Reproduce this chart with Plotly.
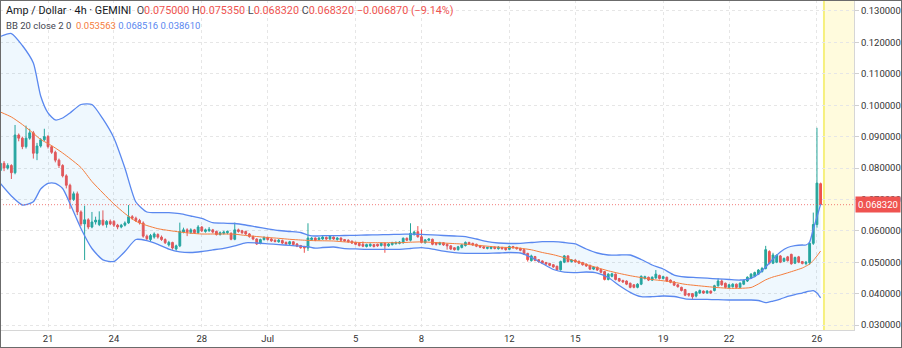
import plotly.graph_objects as go
import pandas as pd

# ---------------- data ----------------
start_time = "2021-06-18 20:00"   # first visible 4h candle

opens = [
    0.0792, 0.0815, 0.0800, 0.0808, 0.0785, 0.0905, 0.0895, 0.0868, 0.0895, 0.0912,
    0.0847, 0.0870, 0.0890, 0.0900, 0.0868, 0.0850, 0.0825, 0.0808, 0.0775, 0.0745,
    0.0700, 0.0718, 0.0660, 0.0622, 0.0635, 0.0612, 0.0628, 0.0620, 0.0634, 0.0620,
    0.0630, 0.0630, 0.0618, 0.0612, 0.0618, 0.0625, 0.0645, 0.0640, 0.0633, 0.0625,
    0.0583, 0.0572, 0.0580, 0.0588, 0.0580, 0.0572, 0.0555, 0.0563, 0.0542, 0.0552,
    0.0596, 0.0603, 0.0595, 0.0603, 0.0594, 0.0612, 0.0598, 0.0600, 0.0603, 0.0598,
    0.0588, 0.0592, 0.0594, 0.0592, 0.0573, 0.0603, 0.0600, 0.0598, 0.0590, 0.0582,
    0.0574, 0.0560, 0.0572, 0.0579, 0.0574, 0.0570, 0.0565, 0.0569, 0.0563, 0.0558,
    0.0565, 0.0558, 0.0553, 0.0550, 0.0545, 0.0572, 0.0577, 0.0572, 0.0574, 0.0579,
    0.0574, 0.0580, 0.0572, 0.0577, 0.0572, 0.0570, 0.0567, 0.0563, 0.0560, 0.0557,
    0.0550, 0.0552, 0.0556, 0.0557, 0.0553, 0.0560, 0.0552, 0.0556, 0.0559, 0.0560,
    0.0562, 0.0576, 0.0570, 0.0588, 0.0597, 0.0581, 0.0562, 0.0570, 0.0573, 0.0562,
    0.0557, 0.0562, 0.0557, 0.0552, 0.0546, 0.0540, 0.0547, 0.0553, 0.0563, 0.0560,
    0.0557, 0.0553, 0.0549, 0.0544, 0.0544, 0.0548, 0.0543, 0.0547, 0.0545, 0.0541,
    0.0550, 0.0547, 0.0544, 0.0540, 0.0528, 0.0505, 0.0518, 0.0508, 0.0504, 0.0499,
    0.0496, 0.0492, 0.0487, 0.0476, 0.0500, 0.0520, 0.0502, 0.0507, 0.0503, 0.0499,
    0.0494, 0.0490, 0.0478, 0.0484, 0.0477, 0.0470, 0.0445, 0.0455, 0.0462, 0.0448,
    0.0442, 0.0440, 0.0433, 0.0428, 0.0420, 0.0430, 0.0448, 0.0452, 0.0443, 0.0450,
    0.0458, 0.0448, 0.0452, 0.0443, 0.0437, 0.0428, 0.0420, 0.0413, 0.0400, 0.0400,
    0.0392, 0.0402, 0.0408, 0.0402, 0.0408, 0.0410, 0.0425, 0.0440, 0.0433, 0.0420,
    0.0422, 0.0430, 0.0420, 0.0430, 0.0440, 0.0450, 0.0455, 0.0462, 0.0470, 0.0480,
    0.0534, 0.0497, 0.0500, 0.0520, 0.0503, 0.0517, 0.0525, 0.0497, 0.0517, 0.0502,
    0.0496, 0.0498, 0.0560, 0.0620, 0.0750,
]
highs = [
    0.0825, 0.0822, 0.0815, 0.0812, 0.0937, 0.0910, 0.0900, 0.0935, 0.0925, 0.0918,
    0.0880, 0.0895, 0.0925, 0.0905, 0.0872, 0.0855, 0.0830, 0.0812, 0.0780, 0.0750,
    0.0725, 0.0725, 0.0665, 0.0680, 0.0640, 0.0660, 0.0645, 0.0662, 0.0665, 0.0634,
    0.0636, 0.0634, 0.0622, 0.0622, 0.0630, 0.0682, 0.0650, 0.0645, 0.0638, 0.0630,
    0.0588, 0.0590, 0.0595, 0.0592, 0.0585, 0.0576, 0.0568, 0.0565, 0.0556, 0.0626,
    0.0610, 0.0608, 0.0608, 0.0606, 0.0618, 0.0615, 0.0607, 0.0612, 0.0606, 0.0600,
    0.0598, 0.0600, 0.0601, 0.0595, 0.0626, 0.0607, 0.0603, 0.0600, 0.0593, 0.0585,
    0.0576, 0.0575, 0.0582, 0.0581, 0.0577, 0.0573, 0.0574, 0.0572, 0.0566, 0.0568,
    0.0567, 0.0561, 0.0555, 0.0552, 0.0624, 0.0580, 0.0579, 0.0580, 0.0583, 0.0582,
    0.0585, 0.0582, 0.0580, 0.0579, 0.0574, 0.0573, 0.0569, 0.0565, 0.0562, 0.0566,
    0.0559, 0.0560, 0.0558, 0.0559, 0.0562, 0.0562, 0.0561, 0.0565, 0.0566, 0.0567,
    0.0579, 0.0579, 0.0624, 0.0600, 0.0615, 0.0604, 0.0574, 0.0576, 0.0575, 0.0564,
    0.0565, 0.0564, 0.0559, 0.0554, 0.0548, 0.0552, 0.0558, 0.0566, 0.0565, 0.0562,
    0.0559, 0.0555, 0.0551, 0.0549, 0.0550, 0.0550, 0.0551, 0.0549, 0.0547, 0.0553,
    0.0552, 0.0549, 0.0546, 0.0542, 0.0530, 0.0524, 0.0520, 0.0510, 0.0506, 0.0501,
    0.0498, 0.0494, 0.0489, 0.0505, 0.0523, 0.0522, 0.0510, 0.0509, 0.0505, 0.0501,
    0.0496, 0.0492, 0.0487, 0.0486, 0.0479, 0.0472, 0.0465, 0.0466, 0.0464, 0.0450,
    0.0444, 0.0442, 0.0435, 0.0430, 0.0433, 0.0458, 0.0457, 0.0454, 0.0455, 0.0475,
    0.0460, 0.0457, 0.0454, 0.0445, 0.0440, 0.0430, 0.0422, 0.0415, 0.0402, 0.0402,
    0.0408, 0.0413, 0.0410, 0.0411, 0.0410, 0.0428, 0.0449, 0.0445, 0.0435, 0.0431,
    0.0433, 0.0432, 0.0436, 0.0445, 0.0455, 0.0465, 0.0470, 0.0478, 0.0485, 0.0552,
    0.0538, 0.0530, 0.0525, 0.0523, 0.0515, 0.0520, 0.0527, 0.0518, 0.0520, 0.0504,
    0.0504, 0.0565, 0.0658, 0.0928, 0.07535,
]
lows = [
    0.0785, 0.0790, 0.0795, 0.0765, 0.0780, 0.0885, 0.0860, 0.0862, 0.0890, 0.0830,
    0.0825, 0.0865, 0.0885, 0.0862, 0.0845, 0.0818, 0.0800, 0.0770, 0.0735, 0.0670,
    0.0695, 0.0650, 0.0615, 0.0507, 0.0605, 0.0608, 0.0620, 0.0615, 0.0615, 0.0610,
    0.0618, 0.0612, 0.0605, 0.0608, 0.0614, 0.0622, 0.0635, 0.0628, 0.0620, 0.0578,
    0.0570, 0.0565, 0.0575, 0.0575, 0.0568, 0.0558, 0.0550, 0.0540, 0.0537, 0.0548,
    0.0592, 0.0583, 0.0590, 0.0590, 0.0590, 0.0596, 0.0594, 0.0597, 0.0592, 0.0585,
    0.0585, 0.0588, 0.0589, 0.0570, 0.0570, 0.0594, 0.0590, 0.0587, 0.0578, 0.0570,
    0.0555, 0.0557, 0.0569, 0.0569, 0.0565, 0.0563, 0.0562, 0.0558, 0.0555, 0.0555,
    0.0553, 0.0548, 0.0543, 0.0530, 0.0536, 0.0568, 0.0567, 0.0569, 0.0571, 0.0571,
    0.0571, 0.0571, 0.0569, 0.0568, 0.0565, 0.0562, 0.0558, 0.0554, 0.0550, 0.0548,
    0.0547, 0.0549, 0.0547, 0.0549, 0.0550, 0.0530, 0.0549, 0.0553, 0.0556, 0.0557,
    0.0559, 0.0567, 0.0566, 0.0585, 0.0578, 0.0560, 0.0559, 0.0567, 0.0554, 0.0553,
    0.0554, 0.0552, 0.0540, 0.0539, 0.0537, 0.0537, 0.0544, 0.0550, 0.0555, 0.0552,
    0.0548, 0.0545, 0.0542, 0.0541, 0.0541, 0.0541, 0.0540, 0.0540, 0.0537, 0.0538,
    0.0543, 0.0540, 0.0535, 0.0523, 0.0502, 0.0502, 0.0503, 0.0498, 0.0494, 0.0491,
    0.0487, 0.0482, 0.0473, 0.0473, 0.0497, 0.0499, 0.0499, 0.0498, 0.0494, 0.0489,
    0.0485, 0.0475, 0.0475, 0.0472, 0.0465, 0.0442, 0.0442, 0.0452, 0.0442, 0.0437,
    0.0434, 0.0427, 0.0417, 0.0417, 0.0417, 0.0427, 0.0445, 0.0440, 0.0440, 0.0447,
    0.0445, 0.0445, 0.0437, 0.0433, 0.0424, 0.0419, 0.0407, 0.0392, 0.0390, 0.0383,
    0.0388, 0.0399, 0.0399, 0.0399, 0.0399, 0.0407, 0.0422, 0.0425, 0.0417, 0.0417,
    0.0419, 0.0417, 0.0417, 0.0427, 0.0437, 0.0447, 0.0452, 0.0459, 0.0467, 0.0477,
    0.0493, 0.0494, 0.0497, 0.0497, 0.0500, 0.0502, 0.0492, 0.0494, 0.0497, 0.0493,
    0.0490, 0.0492, 0.0555, 0.0610, 0.06832,
]
closes = [
    0.0815, 0.0800, 0.0808, 0.0785, 0.0905, 0.0895, 0.0868, 0.0895, 0.0912, 0.0847,
    0.0870, 0.0890, 0.0900, 0.0868, 0.0850, 0.0825, 0.0808, 0.0775, 0.0745, 0.0700,
    0.0718, 0.0660, 0.0622, 0.0635, 0.0612, 0.0628, 0.0634, 0.0634, 0.0620, 0.0630,
    0.0622, 0.0618, 0.0612, 0.0618, 0.0625, 0.0645, 0.0640, 0.0633, 0.0625, 0.0583,
    0.0575, 0.0585, 0.0590, 0.0580, 0.0572, 0.0562, 0.0563, 0.0545, 0.0552, 0.0598,
    0.0603, 0.0595, 0.0603, 0.0594, 0.0612, 0.0600, 0.0603, 0.0605, 0.0596, 0.0588,
    0.0594, 0.0596, 0.0598, 0.0573, 0.0603, 0.0598, 0.0594, 0.0590, 0.0582, 0.0574,
    0.0558, 0.0572, 0.0579, 0.0572, 0.0568, 0.0566, 0.0570, 0.0561, 0.0558, 0.0565,
    0.0556, 0.0551, 0.0546, 0.0545, 0.0577, 0.0577, 0.0570, 0.0577, 0.0580, 0.0574,
    0.0582, 0.0574, 0.0577, 0.0570, 0.0568, 0.0565, 0.0561, 0.0557, 0.0553, 0.0551,
    0.0556, 0.0557, 0.0550, 0.0552, 0.0560, 0.0552, 0.0558, 0.0562, 0.0563, 0.0564,
    0.0576, 0.0570, 0.0592, 0.0596, 0.0581, 0.0563, 0.0571, 0.0574, 0.0557, 0.0557,
    0.0562, 0.0555, 0.0552, 0.0542, 0.0540, 0.0549, 0.0555, 0.0563, 0.0558, 0.0555,
    0.0551, 0.0548, 0.0545, 0.0547, 0.0548, 0.0544, 0.0548, 0.0543, 0.0540, 0.0550,
    0.0546, 0.0543, 0.0538, 0.0526, 0.0508, 0.0520, 0.0506, 0.0502, 0.0497, 0.0494,
    0.0490, 0.0485, 0.0476, 0.0502, 0.0520, 0.0502, 0.0507, 0.0501, 0.0497, 0.0492,
    0.0488, 0.0478, 0.0484, 0.0475, 0.0468, 0.0445, 0.0462, 0.0463, 0.0445, 0.0440,
    0.0437, 0.0430, 0.0420, 0.0420, 0.0430, 0.0455, 0.0454, 0.0443, 0.0452, 0.0462,
    0.0448, 0.0454, 0.0440, 0.0436, 0.0427, 0.0422, 0.0410, 0.0395, 0.0395, 0.0390,
    0.0405, 0.0410, 0.0402, 0.0408, 0.0402, 0.0425, 0.0440, 0.0428, 0.0420, 0.0428,
    0.0430, 0.0420, 0.0433, 0.0442, 0.0452, 0.0462, 0.0467, 0.0475, 0.0480, 0.0540,
    0.0497, 0.0523, 0.0522, 0.0500, 0.0512, 0.0505, 0.0495, 0.0515, 0.0500, 0.0496,
    0.0500, 0.0560, 0.0620, 0.07519, 0.06832,
]

# Bollinger Bands (20, 2) at these candle positions
bb_idx = [0, 3, 6, 9, 11, 13, 15, 17, 19, 22, 25, 28, 31, 34, 37, 40, 43, 46, 49, 52,
          55, 58, 61, 64, 67, 70, 73, 76, 79, 82, 84, 86, 88, 91, 94, 97, 100, 103, 106, 109,
          112, 115, 118, 121, 124, 127, 130, 133, 136, 139, 142, 145, 148, 151, 154, 157, 160, 163, 166, 169,
          172, 175, 178, 181, 184, 187, 190, 193, 196, 199, 202, 205, 207, 209, 211, 213, 215, 217, 219, 220,
          221, 222, 223, 224]
bb_upper = [0.12188, 0.12283, 0.11901, 0.11344, 0.10293, 0.09752, 0.09529, 0.09592, 0.09752, 0.10022,
            0.10022, 0.09561, 0.08955, 0.08000, 0.06917, 0.06599, 0.06576, 0.06576, 0.06545, 0.06471,
            0.06392, 0.06258, 0.06242, 0.06232, 0.06185, 0.06121, 0.06064, 0.06010, 0.05978, 0.05946,
            0.05866, 0.05834, 0.05844, 0.05844, 0.05850, 0.05856, 0.05866, 0.05873, 0.05879, 0.05889,
            0.05892, 0.05889, 0.05873, 0.05850, 0.05834, 0.05818, 0.05739, 0.05653, 0.05611, 0.05596,
            0.05602, 0.05627, 0.05653, 0.05653, 0.05627, 0.05580, 0.05420, 0.05293, 0.05229, 0.05229,
            0.05229, 0.05086, 0.04911, 0.04783, 0.04592, 0.04529, 0.04510, 0.04490, 0.04468, 0.04449,
            0.04433, 0.04487, 0.04624, 0.04847, 0.05102, 0.05325, 0.05468, 0.05525, 0.05548, 0.05548,
            0.05643, 0.06057, 0.06439, 0.068516]
bb_mid = [0.09783, 0.09624, 0.09385, 0.09105, 0.08908, 0.08780, 0.08637, 0.08478, 0.08303, 0.08016,
          0.07570, 0.07204, 0.06854, 0.06551, 0.06303, 0.06169, 0.06067, 0.06010, 0.05962, 0.05924,
          0.05898, 0.05898, 0.05898, 0.05892, 0.05850, 0.05818, 0.05787, 0.05761, 0.05729, 0.05707,
          0.05694, 0.05685, 0.05682, 0.05675, 0.05647, 0.05634, 0.05621, 0.05621, 0.05621, 0.05621,
          0.05637, 0.05647, 0.05631, 0.05611, 0.05592, 0.05573, 0.05541, 0.05510, 0.05478, 0.05469,
          0.05446, 0.05395, 0.05309, 0.05239, 0.05143, 0.05038, 0.04927, 0.04825, 0.04726, 0.04643,
          0.04570, 0.04510, 0.04449, 0.04408, 0.04360, 0.04296, 0.04258, 0.04223, 0.04191, 0.04169,
          0.04169, 0.04194, 0.04306, 0.04439, 0.04529, 0.04592, 0.04662, 0.04736, 0.04815, 0.04873,
          0.04943, 0.05054, 0.05198, 0.053563]
bb_lower = [0.07506, 0.07108, 0.06822, 0.06927, 0.07331, 0.07513, 0.07513, 0.07347, 0.06869, 0.06073,
            0.05436, 0.05076, 0.05022, 0.05341, 0.05723, 0.05688, 0.05570, 0.05420, 0.05331, 0.05309,
            0.05341, 0.05392, 0.05443, 0.05522, 0.05618, 0.05611, 0.05586, 0.05561, 0.05535, 0.05510,
            0.05494, 0.05446, 0.05468, 0.05484, 0.05433, 0.05424, 0.05411, 0.05411, 0.05411, 0.05411,
            0.05436, 0.05465, 0.05420, 0.05350, 0.05306, 0.05283, 0.05283, 0.05283, 0.05293, 0.05309,
            0.05293, 0.05150, 0.04959, 0.04768, 0.04682, 0.04669, 0.04688, 0.04656, 0.04513, 0.04258,
            0.04041, 0.03901, 0.03901, 0.03924, 0.03908, 0.03834, 0.03818, 0.03818, 0.03806, 0.03796,
            0.03796, 0.03796, 0.03780, 0.03710, 0.03764, 0.03828, 0.03908, 0.03971, 0.04019, 0.04051,
            0.04076, 0.04092, 0.04019, 0.038610]

x_tick_dates = ["2021-06-21", "2021-06-24", "2021-06-28", "2021-07-01", "2021-07-05", "2021-07-08",
                "2021-07-12", "2021-07-15", "2021-07-19", "2021-07-22", "2021-07-26"]
x_tick_text = ["21", "24", "28", "Jul", "5", "8", "12", "15", "19", "22", "26"]
y_tick_vals = [0.03, 0.04, 0.05, 0.06, 0.07, 0.08, 0.09, 0.10, 0.11, 0.12, 0.13]
y_tick_text = ["0.030000", "0.040000", "0.050000", "0.060000", "0.070000", "0.080000",
               "0.090000", "0.100000", "0.110000", "0.120000", "0.130000"]

x_view = ["2021-06-18 19:34", "2021-07-27 16:28"]
y_view = [0.02841, 0.1335]
highlight_start = "2021-07-26 07:40"

# ---------------- figure ----------------
times = pd.date_range(start_time, periods=len(closes), freq="4h")
bb_times = [times[i] for i in bb_idx]

UP, DOWN = "#26a69a", "#ef5350"
BAND, BASIS = "#5a88ef", "#f57d3c"
FONT = "Roboto, Arial, sans-serif"

fig = go.Figure()
# band background fill
fig.add_trace(go.Scatter(x=bb_times, y=bb_upper, mode="lines",
                         line=dict(width=0, shape="spline", smoothing=0.6),
                         hoverinfo="skip", showlegend=False))
fig.add_trace(go.Scatter(x=bb_times, y=bb_lower, mode="lines",
                         line=dict(width=0, shape="spline", smoothing=0.6),
                         fill="tonexty", fillcolor="rgba(33,150,243,0.07)",
                         hoverinfo="skip", showlegend=False))
# candles
fig.add_trace(go.Candlestick(
    x=times, open=opens, high=highs, low=lows, close=closes,
    increasing=dict(line=dict(color=UP, width=1), fillcolor=UP),
    decreasing=dict(line=dict(color=DOWN, width=1), fillcolor=DOWN),
    whiskerwidth=0, showlegend=False, hoverinfo="skip"))
# band lines
for vals, col, w in [(bb_upper, BAND, 1.3), (bb_lower, BAND, 1.3), (bb_mid, BASIS, 1.0)]:
    fig.add_trace(go.Scatter(x=bb_times, y=vals, mode="lines",
                             line=dict(color=col, width=w, shape="spline", smoothing=0.6),
                             hoverinfo="skip", showlegend=False))

last_o, last_h, last_l, last_c = opens[-1], highs[-1], lows[-1], closes[-1]
chg = last_c - closes[-2]
pct = chg / closes[-2] * 100


def fmt_signed(v, nd):
    s = f"{abs(v):.{nd}f}"
    return ("\u2212" if v < 0 else "+") + s


GREY = "#434651"
RED = "#ef5350"
sp = "\u00a0"
line1 = (f'<span style="color:#131722">Amp / Dollar · 4h · GEMINI</span>{sp}{sp}'
         f'<span style="color:{GREY}">O</span><span style="color:{RED}">{last_o:.6f}</span>{sp}'
         f'<span style="color:{GREY}">H</span><span style="color:{RED}">{last_h:.6f}</span>{sp}'
         f'<span style="color:{GREY}">L</span><span style="color:{RED}">{last_l:.6f}</span>{sp}'
         f'<span style="color:{GREY}">C</span><span style="color:{RED}">{last_c:.6f}</span>{sp}'
         f'<span style="color:{RED}">{fmt_signed(chg, 6)} ({fmt_signed(pct, 2)}%)</span>')
line2 = (f'<span style="color:{GREY}">BB 20 close 2 0</span>{sp}{sp}'
         f'<span style="color:{BASIS}">{bb_mid[-1]:.6f}</span>{sp}'
         f'<span style="color:{BAND}">{bb_upper[-1]:.6f}</span>{sp}'
         f'<span style="color:{BAND}">{bb_lower[-1]:.6f}</span>')

W, H = 902, 348
ML, MR, MT, MB = 0, 48, 0, 18
pw, ph = W - ML - MR, H - MT - MB

fig.update_layout(
    width=W, height=H,
    margin=dict(l=ML, r=MR, t=MT, b=MB, pad=0),
    paper_bgcolor="white", plot_bgcolor="white",
    showlegend=False,
    font=dict(family=FONT, size=9.5, color="#333"),
    xaxis=dict(range=x_view, rangeslider=dict(visible=False),
               tickmode="array", tickvals=x_tick_dates, ticktext=x_tick_text,
               showgrid=True, gridcolor="#e6e6e6", griddash="dot", gridwidth=1,
               showline=True, linecolor="#d6d6d6", ticks="", zeroline=False,
               tickfont=dict(size=9.5, color="#333")),
    yaxis=dict(side="right", range=y_view, tickmode="array",
               tickvals=y_tick_vals, ticktext=y_tick_text,
               showgrid=True, gridcolor="#e6e6e6", griddash="dot", gridwidth=1,
               ticks="outside", ticklen=4, tickcolor="#d0d0d0",
               showline=True, linecolor="#d6d6d6", zeroline=False,
               tickfont=dict(size=9.5, color="#333")),
    shapes=[
        dict(type="rect", xref="x", yref="paper", x0=highlight_start, x1=x_view[1], y0=0, y1=1,
             fillcolor="rgba(255,246,170,0.4)", line=dict(width=0), layer="below"),
        dict(type="line", xref="x", yref="paper", x0=highlight_start, x1=highlight_start, y0=0, y1=1,
             line=dict(color="#f6f07e", width=2), layer="below"),
        dict(type="line", xref="paper", yref="y", x0=0, x1=1, y0=last_c, y1=last_c,
             line=dict(color="rgba(239,83,80,0.75)", width=1, dash="1px,2px")),
        dict(type="rect", xref="paper", yref="paper", x0=0, x1=W / pw, y0=-MB / ph, y1=1,
             line=dict(color="#6b6b6b", width=2), fillcolor="rgba(0,0,0,0)"),
    ],
    annotations=[
        dict(xref="paper", yref="paper", x=0, y=1 - 11 / ph, xanchor="left", yanchor="middle",
             xshift=4, text=line1, showarrow=False, font=dict(family=FONT, size=10.8, color="#131722")),
        dict(xref="paper", yref="paper", x=0, y=1 - 26 / ph, xanchor="left", yanchor="middle",
             xshift=4, text=line2, showarrow=False, font=dict(family=FONT, size=9.5, color=GREY)),
        dict(xref="paper", yref="y", x=1, y=last_c, xanchor="left", yanchor="middle",
             xshift=1, text=f"{last_c:.6f}", showarrow=False, bgcolor=RED, borderpad=2,
             font=dict(family=FONT, size=9.5, color="white")),
    ],
)

fig.write_html("out.html", config={"displayModeBar": False})
